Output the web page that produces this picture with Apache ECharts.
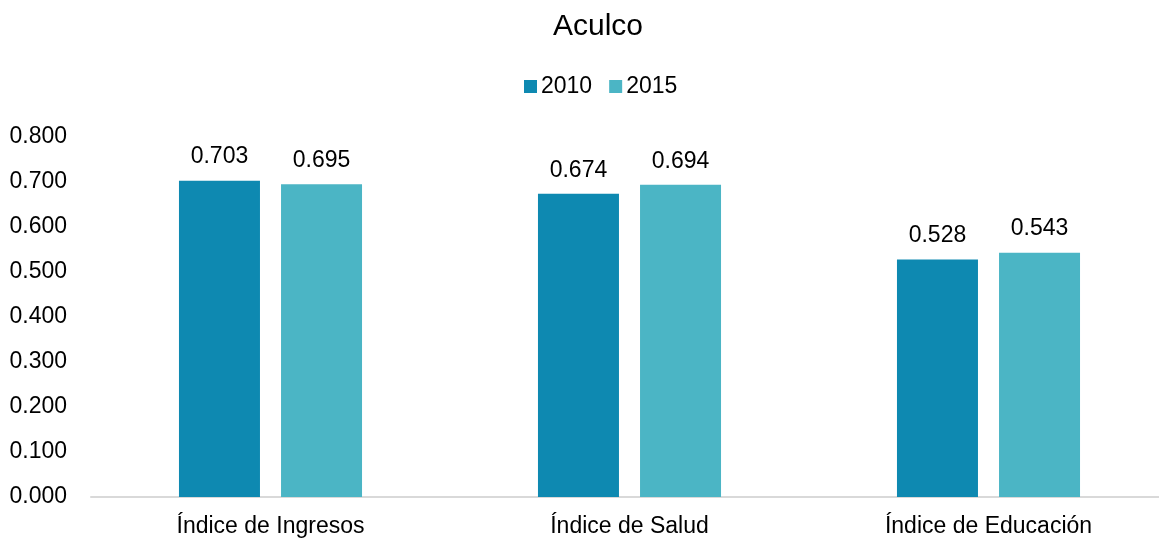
<!DOCTYPE html>
<html>
<head>
<meta charset="utf-8">
<title>Aculco</title>
<script src="https://cdn.jsdelivr.net/npm/echarts@6/dist/echarts.min.js"></script>
<style>
  html, body { margin: 0; padding: 0; background: #ffffff; }
  #chart { width: 1159px; height: 541px; }
</style>
</head>
<body>
<div id="chart"></div>
<script>
// Índices de desarrollo humano del municipio de Aculco
const categories = ['Índice de Ingresos', 'Índice de Salud', 'Índice de Educación'];
const seriesNames = ['2010', '2015'];
const values2010 = [0.703, 0.674, 0.528];
const values2015 = [0.695, 0.694, 0.543];
const colors = ['#0E89B1', '#4BB5C5'];

const FONT = "'Liberation Sans', Arial, sans-serif";

const chart = echarts.init(document.getElementById('chart'), null, { renderer: 'canvas' });

const labelStyle = {
  show: true,
  position: 'top',
  distance: 12,
  color: '#000',
  fontFamily: FONT,
  fontSize: 23,
  formatter: p => p.value.toFixed(3)
};

chart.setOption({
  animation: false,
  backgroundColor: '#ffffff',
  color: colors,
  title: {
    text: 'Aculco',
    left: 548,
    top: 7,
    textStyle: { color: '#000', fontFamily: FONT, fontSize: 30, fontWeight: 'normal' }
  },
  legend: {
    data: seriesNames,
    top: 70,
    left: 519,
    icon: 'rect',
    itemWidth: 13,
    itemHeight: 13,
    itemGap: 17,
    textStyle: { color: '#000', fontFamily: FONT, fontSize: 23, padding: [0, 0, 0, -1] }
  },
  grid: {
    left: 91,
    top: 137,
    bottom: 44,
    width: 1077,
    containLabel: false,
    outerBoundsMode: 'none'
  },
  xAxis: {
    type: 'category',
    data: categories,
    axisLine: { show: true, lineStyle: { color: '#D9D9D9', width: 2 } },
    axisTick: { show: false },
    axisLabel: { color: '#000', fontFamily: FONT, fontSize: 23, margin: 18 }
  },
  yAxis: {
    type: 'value',
    min: 0,
    max: 0.8,
    interval: 0.1,
    axisLine: { show: false },
    axisTick: { show: false },
    splitLine: { show: false },
    axisLabel: {
      color: '#000',
      fontFamily: FONT,
      fontSize: 23,
      margin: 24,
      formatter: v => v.toFixed(3)
    }
  },
  series: [
    {
      name: seriesNames[0],
      type: 'bar',
      data: values2010,
      barWidth: 81,
      barGap: '26%',
      itemStyle: { color: colors[0] },
      label: labelStyle
    },
    {
      name: seriesNames[1],
      type: 'bar',
      data: values2015,
      barWidth: 81,
      barGap: '26%',
      itemStyle: { color: colors[1] },
      label: labelStyle
    }
  ]
});
</script>
</body>
</html>
